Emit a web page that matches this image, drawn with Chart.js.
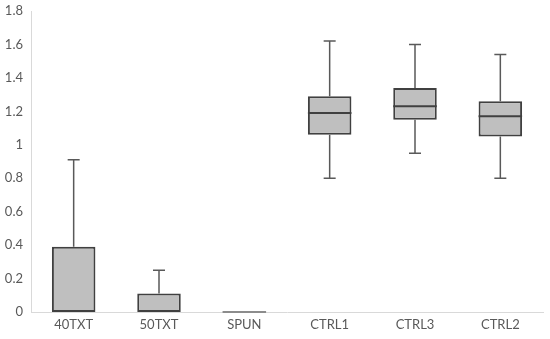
<!DOCTYPE html>
<html>
<head>
<meta charset="utf-8">
<script src="https://cdn.jsdelivr.net/npm/chart.js@4"></script>
<style>
  html, body { margin: 0; padding: 0; background: #fff; }
  #wrap { width: 550px; height: 339px; }
</style>
</head>
<body>
<div id="wrap"><canvas id="boxChart"></canvas></div>
<script>
const categories = ['40TXT', '50TXT', 'SPUN', 'CTRL1', 'CTRL3', 'CTRL2'];
const minVals    = [0,    0,    0, 0.80, 0.95, 0.80];
const q1Vals     = [0,    0,    0, 1.06, 1.15, 1.05];
const medianVals = [0,    0,    0, 1.19, 1.23, 1.17];
const q3Vals     = [0.39, 0.11, 0, 1.29, 1.34, 1.26];
const maxVals    = [0.91, 0.25, 0, 1.62, 1.60, 1.54];
const yTicks     = [0, 0.2, 0.4, 0.6, 0.8, 1, 1.2, 1.4, 1.6, 1.8];

// whiskers + median lines, drawn with the chart's own scales
const boxExtras = {
    id: 'boxExtras',
    afterDatasetsDraw(chart) {
        const ctx = chart.ctx;
        const y = chart.scales.y;
        const meta = chart.getDatasetMeta(0);
        ctx.save();
        meta.data.forEach((bar, i) => {
            const x = bar.x;
            const half = bar.width / 2;
            const yMin = y.getPixelForValue(minVals[i]);
            const yQ1 = y.getPixelForValue(q1Vals[i]);
            const yQ3 = y.getPixelForValue(q3Vals[i]);
            const yMax = y.getPixelForValue(maxVals[i]);
            const yMed = y.getPixelForValue(medianVals[i]);

            ctx.strokeStyle = '#595959';
            ctx.lineWidth = 1.5;
            ctx.beginPath();
            if (maxVals[i] > q3Vals[i]) {
                ctx.moveTo(x, yQ3); ctx.lineTo(x, yMax);
                ctx.moveTo(x - 6, yMax); ctx.lineTo(x + 6, yMax);
            }
            if (minVals[i] < q1Vals[i]) {
                ctx.moveTo(x, yQ1); ctx.lineTo(x, yMin);
                ctx.moveTo(x - 6, yMin); ctx.lineTo(x + 6, yMin);
            }
            ctx.stroke();

            if (q3Vals[i] === q1Vals[i]) {
                // flat box: just a grey line
                ctx.strokeStyle = '#8c8c8c';
                ctx.lineWidth = 2;
                ctx.beginPath();
                ctx.moveTo(x - half, yMed); ctx.lineTo(x + half, yMed);
                ctx.stroke();
            } else if (medianVals[i] > q1Vals[i]) {
                ctx.strokeStyle = '#404040';
                ctx.lineWidth = 2;
                ctx.beginPath();
                ctx.moveTo(x - half, yMed); ctx.lineTo(x + half, yMed);
                ctx.stroke();
            }
        });
        ctx.restore();
    }
};

new Chart(document.getElementById('boxChart').getContext('2d'), {
    type: 'bar',
    data: {
        labels: categories,
        datasets: [{
            data: categories.map((c, i) => [q1Vals[i], q3Vals[i]]),
            backgroundColor: '#bfbfbf',
            borderColor: '#404040',
            borderWidth: 2,
            borderSkipped: false,
            barPercentage: 0.51,
            categoryPercentage: 1.0
        }]
    },
    options: {
        responsive: true,
        maintainAspectRatio: false,
        animation: false,
        layout: { padding: { top: 11, right: 7, left: 0, bottom: 0 } },
        plugins: {
            legend: { display: false },
            tooltip: { enabled: false }
        },
        scales: {
            x: {
                grid: { display: false, drawTicks: false },
                border: { display: true, color: '#d9d9d9', width: 1 },
                ticks: { color: '#595959', font: { family: 'Lato', size: 13 }, padding: 5 },
                afterFit(scale) { scale.height = 27; }
            },
            y: {
                min: 0,
                max: 1.8,
                afterBuildTicks(scale) { scale.ticks = yTicks.map(v => ({ value: v })); },
                grid: { display: false, drawTicks: false },
                border: { display: true, color: '#d9d9d9', width: 1 },
                ticks: {
                    color: '#595959',
                    font: { family: 'Lato', size: 13 },
                    padding: 8,
                    callback: v => String(v)
                },
                afterFit(scale) {
                    scale.width = 31;
                    scale.paddingTop = 0;
                    scale.paddingBottom = 0;
                }
            }
        }
    },
    plugins: [boxExtras]
});
</script>
</body>
</html>
